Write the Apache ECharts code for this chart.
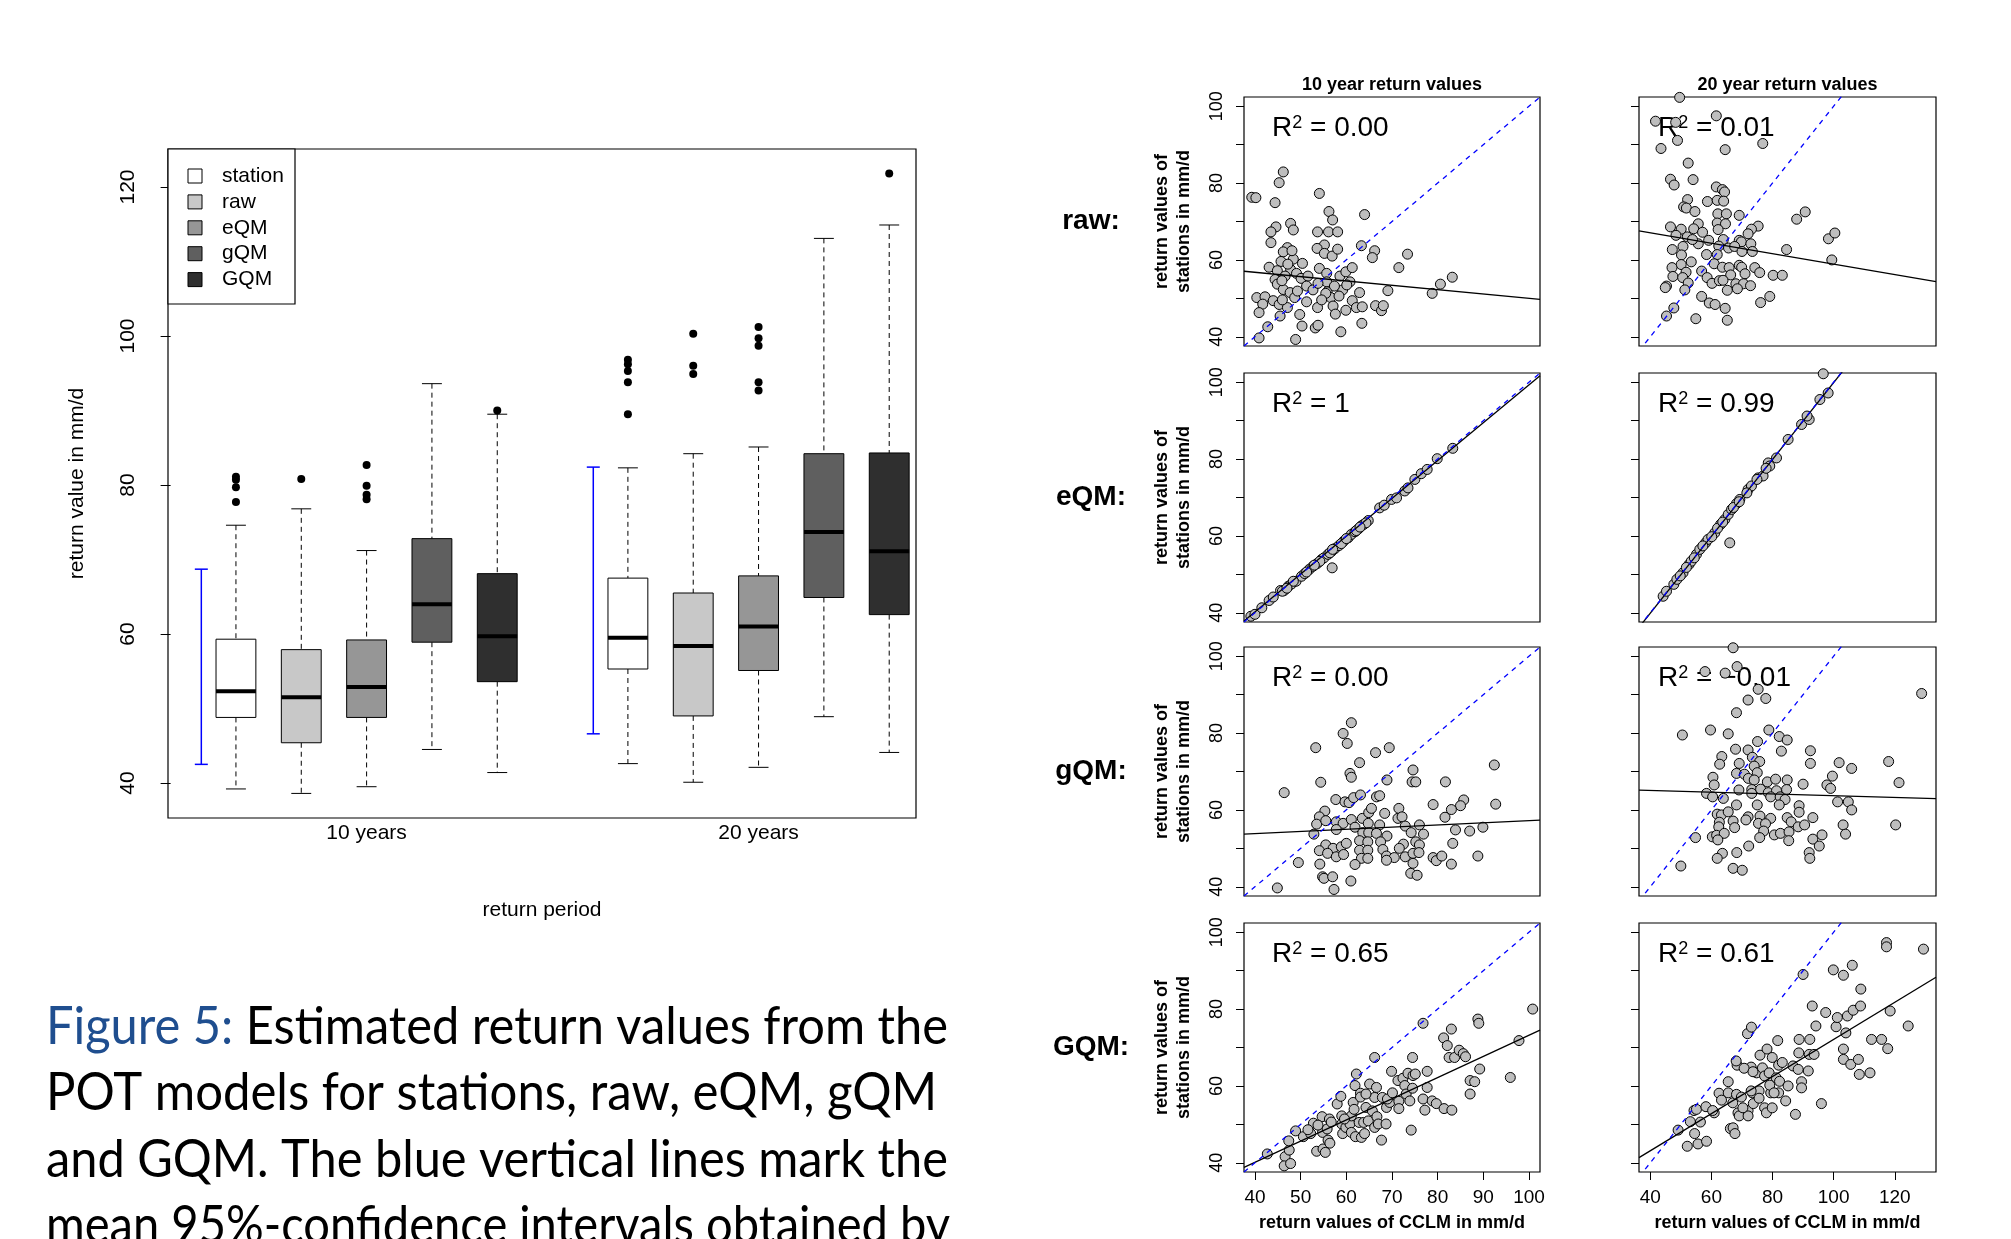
<!DOCTYPE html>
<html>
<head>
<meta charset="utf-8">
<title>Return values</title>
<script src="https://cdn.jsdelivr.net/npm/echarts@6.0.0/dist/echarts.min.js"></script>
<style>
  html, body { margin: 0; padding: 0; background: #fff; }
  #main { width: 2011px; height: 1239px; }
</style>
</head>
<body>
<div id="main"></div>
<script>
// ---- box plot data ----
const methods = ['station', 'raw', 'eQM', 'gQM', 'GQM']
const periods = ['10 years', '20 years']
const periodTicks = [3, 9]
const boxPos = [1, 2, 3, 4, 5, 7, 8, 9, 10, 11]
// lower whisker, q1, median, q3, upper whisker
const boxStats = [
  [39.2, 48.8, 52.3, 59.3, 74.6],
  [38.6, 45.4, 51.5, 57.9, 76.8],
  [39.5, 48.8, 52.9, 59.2, 71.2],
  [44.5, 58.9, 64.0, 72.8, 93.6],
  [41.4, 53.6, 59.7, 68.1, 89.5],
  [42.6, 55.3, 59.5, 67.5, 82.3],
  [40.1, 49.0, 58.4, 65.5, 84.2],
  [42.1, 55.1, 61.0, 67.8, 85.1],
  [48.9, 64.9, 73.7, 84.2, 113.1],
  [44.1, 62.6, 71.1, 84.3, 114.9]
]
const outliers = [
  [1, 81.1], [1, 80.7], [1, 79.7], [1, 77.7], [2, 80.8],
  [3, 82.7], [3, 79.9], [3, 78.7], [3, 78.1], [5, 90.0],
  [7, 96.8], [7, 96.2], [7, 95.3], [7, 93.8], [7, 89.5],
  [8, 100.3], [8, 96.0], [8, 94.9],
  [9, 101.2], [9, 99.7], [9, 98.7], [9, 93.8], [9, 92.7],
  [11, 121.8]
]
const ciPos = [0.47, 6.47]
const ciLow = [42.5, 46.6]
const ciHigh = [68.7, 82.4]

// ---- scatter data: [CCLM, station] ----
const raw10 = [[39.3,76.3],[40.2,76.2],[46.2,82.9],[45.3,80.1],[44.4,74.9],[54.1,77.3],[56.2,72.6],[57.0,70.4],[64.0,71.8],[44.6,68.6],[43.5,67.3],[47.8,69.5],[48.4,67.8],[53.7,67.3],[56.1,67.3],[58.1,67.3],[43.5,64.5],[47.1,63.2],[46.2,62.1],[55.2,63.9],[53.6,63.0],[55.2,61.7],[56.9,61.0],[58.1,62.8],[63.3,63.7],[66.2,62.4],[65.7,60.6],[73.4,61.5],[71.5,58.0],[83.2,55.5],[80.6,53.7],[78.8,51.3],[69.1,52.0],[62.9,51.5],[45.7,59.6],[48.4,60.2],[50.4,59.1],[43.1,58.1],[44.9,57.2],[47.8,57.5],[49.1,56.5],[46.6,55.8],[44.4,54.9],[44.9,53.7],[50.1,55.2],[51.6,55.8],[54.1,57.8],[55.7,56.5],[58.6,55.8],[59.9,56.9],[61.3,58.0],[60.8,54.3],[55.7,54.3],[51.3,53.2],[46.2,52.3],[47.7,51.5],[52.7,52.2],[53.8,53.9],[55.8,51.7],[59.2,52.2],[40.4,50.2],[42.2,50.4],[41.7,48.5],[44.0,49.4],[45.3,48.4],[47.1,47.6],[48.7,50.2],[51.3,49.1],[53.7,47.6],[56.6,50.2],[57.1,48.0],[57.6,45.9],[59.9,46.9],[61.3,49.4],[62.2,47.6],[63.5,47.8],[66.4,48.1],[67.7,46.8],[68.1,48.1],[40.9,46.3],[45.5,45.4],[49.8,45.8],[42.8,42.6],[50.3,42.8],[53.2,42.3],[53.8,43.0],[63.4,43.5],[58.8,41.3],[40.9,39.7],[48.9,39.3],[55.5,51.3],[47.2,58.9],[45.9,54.6],[48.1,62.4],[60.1,53.5],[58.4,50.6],[54.6,49.6],[49.3,51.9],[57.4,53.2],[46.0,49.6]]
const raw20 = [[41.7,96.1],[48.3,95.8],[61.6,97.5],[49.6,102.3],[48.9,91.1],[43.5,89.0],[64.5,88.7],[76.8,90.3],[52.4,85.2],[46.6,81.0],[47.8,79.5],[54.0,80.9],[61.6,79.0],[63.6,78.3],[64.3,77.7],[52.2,75.7],[58.7,75.2],[61.9,75.5],[64.0,75.3],[50.9,73.8],[51.8,73.5],[54.6,72.6],[62.1,72.0],[64.9,72.0],[61.9,69.6],[64.6,69.4],[69.1,71.6],[87.9,70.6],[90.7,72.5],[46.6,68.6],[50.1,68.0],[55.7,69.4],[54.2,68.1],[62.2,67.9],[75.3,68.8],[73.1,68.0],[72.0,66.8],[48.4,66.4],[52.1,66.0],[57.1,67.2],[59.1,65.1],[63.9,65.3],[55.7,64.2],[53.8,65.3],[69.1,65.1],[69.8,64.7],[72.9,64.2],[98.3,65.5],[100.4,67.0],[47.2,62.7],[50.7,63.5],[62.4,63.6],[65.6,63.1],[67.6,63.5],[70.0,62.2],[73.4,62.2],[84.6,62.7],[50.2,61.3],[58.4,61.4],[61.9,61.4],[53.4,59.5],[50.1,58.8],[47.1,58.0],[60.9,59.0],[63.6,58.1],[65.8,58.0],[69.1,58.6],[69.9,58.1],[74.2,58.0],[99.4,60.0],[51.7,56.8],[56.8,57.1],[66.3,56.1],[71.0,56.4],[75.8,56.7],[80.2,56.0],[83.2,56.0],[47.4,55.7],[50.6,55.4],[58.6,55.4],[52.4,54.0],[60.2,53.9],[62.6,54.6],[63.8,54.7],[68.0,53.8],[70.5,53.8],[72.8,53.3],[45.3,53.2],[44.9,52.8],[51.3,52.2],[65.2,52.1],[68.5,52.5],[56.8,50.5],[79.1,50.5],[59.3,48.8],[61.2,48.4],[76.1,48.9],[64.5,47.4],[47.7,47.5],[45.3,45.4],[54.9,44.7],[65.2,44.3]]
const eQM10 = [[39.1,39.1],[40.0,39.6],[41.5,41.3],[43.1,43.2],[44.0,44.1],[45.6,45.8],[46.4,45.8],[47.3,46.9],[48.0,47.5],[49.0,48.2],[50.2,49.5],[50.9,50.2],[51.9,51.3],[52.7,52.1],[53.6,52.8],[54.6,53.9],[55.1,54.3],[56.0,55.2],[56.8,56.0],[57.5,56.7],[58.4,57.5],[59.4,58.6],[60.4,59.5],[61.1,60.4],[61.9,61.1],[62.7,61.9],[63.3,62.6],[63.8,63.0],[64.8,64.0],[67.3,67.3],[68.3,68.0],[69.9,69.5],[71.0,69.9],[72.8,71.7],[73.5,72.5],[75.0,74.7],[76.4,76.2],[77.7,77.3],[79.9,80.1],[83.3,82.8],[56.9,51.7],[46.0,45.6],[48.4,48.2],[51.3,50.6],[54.2,53.4],[56.4,55.6],[58.9,58.0],[62.2,61.4],[64.3,63.4],[47.0,46.4],[53.0,52.4],[57.0,56.5],[60.0,59.3],[63.0,62.3]]
const eQM20 = [[44.2,44.3],[45.3,45.6],[47.7,47.4],[48.7,48.7],[50.7,50.4],[52.7,52.6],[53.4,53.4],[55.1,55.2],[56.2,56.5],[58.1,58.2],[58.9,59.1],[61.1,60.8],[63.0,63.0],[64.4,64.3],[65.5,65.6],[66.6,66.9],[68.2,68.4],[69.3,69.5],[72.0,72.1],[73.1,73.0],[75.3,75.1],[76.9,75.6],[78.6,79.0],[79.1,78.2],[81.3,80.3],[85.1,85.1],[89.5,89.0],[92.0,90.3],[91.3,91.2],[95.5,95.5],[98.2,97.2],[96.6,102.2],[66.0,58.2],[49.8,49.6],[51.8,51.8],[54.4,54.3],[57.2,57.4],[60.1,59.8],[62.0,62.0],[63.7,63.6],[67.2,67.4],[69.1,68.9],[71.6,71.2],[74.9,74.7],[77.9,77.6]]
const gQM10 = [[61.1,82.7],[59.3,79.9],[60.2,77.3],[53.3,76.2],[66.4,74.9],[69.4,76.2],[62.9,72.3],[74.6,70.4],[92.4,71.7],[60.8,69.5],[61.1,68.5],[54.4,67.2],[68.9,67.8],[74.4,67.3],[75.2,67.3],[81.7,67.3],[46.4,64.5],[57.7,62.7],[59.7,62.1],[60.6,61.9],[61.6,63.2],[63.1,63.9],[66.6,63.4],[67.3,63.7],[79.0,61.4],[85.7,62.6],[85.0,61.1],[83.0,60.1],[92.7,61.5],[55.3,59.7],[54.1,58.2],[53.5,56.3],[55.5,57.2],[57.8,56.9],[59.3,56.5],[61.1,57.5],[63.5,57.8],[64.9,59.3],[65.5,60.4],[68.4,59.1],[71.5,60.4],[71.3,57.8],[72.2,58.2],[67.3,56.1],[64.8,56.5],[61.9,55.5],[57.8,54.9],[72.9,55.8],[76.0,56.1],[81.6,58.1],[89.9,55.5],[52.9,53.7],[63.6,54.1],[64.9,54.1],[66.6,53.9],[68.9,53.2],[74.2,54.1],[76.9,53.7],[83.9,54.8],[87.0,54.5],[62.9,52.0],[64.7,51.7],[67.5,51.7],[75.2,51.7],[76.0,50.9],[83.3,51.3],[55.5,50.9],[57.1,50.0],[58.9,50.4],[60.0,51.3],[72.5,51.1],[71.6,50.0],[54.1,49.4],[55.9,48.7],[57.8,47.8],[59.4,48.4],[62.9,49.5],[64.7,49.5],[68.0,49.7],[68.8,48.0],[70.5,47.6],[72.9,47.8],[74.6,48.7],[75.9,48.9],[63.3,47.4],[64.7,47.4],[68.8,46.9],[79.0,47.6],[79.7,46.8],[80.9,48.0],[88.8,48.0],[49.5,46.3],[54.2,45.9],[61.9,45.8],[74.6,46.1],[83.0,45.9],[54.8,42.6],[55.1,42.2],[57.0,42.6],[61.0,41.5],[74.1,43.5],[75.5,43.0],[44.9,39.7],[57.3,39.3]]
const gQM20 = [[67.1,102.2],[57.9,96.0],[64.5,95.6],[68.4,97.3],[75.3,91.4],[72.0,88.6],[77.8,89.0],[68.2,85.3],[128.8,90.3],[50.5,79.5],[59.7,80.8],[65.5,79.8],[78.8,80.8],[82.2,79.1],[84.8,78.2],[75.1,77.8],[82.9,75.3],[67.9,75.8],[72.0,75.6],[92.4,75.4],[92.4,72.1],[63.4,73.9],[62.7,71.9],[69.1,72.1],[73.4,73.7],[75.8,72.6],[74.0,71.4],[101.8,72.3],[105.9,70.8],[118.0,72.6],[121.4,67.1],[68.2,69.5],[70.8,69.3],[75.0,69.7],[60.5,68.5],[72.1,68.2],[74.0,67.8],[60.9,66.5],[78.3,67.3],[81.0,68.0],[84.8,67.8],[90.0,66.7],[99.6,68.8],[97.8,66.5],[99.0,65.6],[58.4,64.3],[60.4,63.4],[63.9,63.0],[69.0,65.2],[73.2,65.3],[73.2,64.3],[76.1,65.4],[78.6,64.5],[81.3,65.0],[84.6,65.3],[79.4,63.4],[82.5,63.4],[84.1,62.7],[82.2,61.3],[88.7,61.1],[88.7,59.4],[101.3,62.1],[104.8,62.1],[105.9,60.0],[68.2,61.3],[75.0,61.3],[61.9,58.9],[63.3,58.7],[65.5,59.5],[72.0,58.2],[75.9,58.4],[79.4,57.8],[84.8,58.0],[86.1,56.9],[93.2,58.0],[62.6,56.8],[67.1,57.1],[71.3,57.4],[75.4,56.5],[77.7,56.4],[88.4,55.6],[90.5,56.1],[103.1,56.1],[120.3,56.1],[62.4,55.6],[67.6,55.4],[77.1,54.5],[60.3,53.0],[61.7,53.4],[64.2,53.9],[80.6,53.5],[82.6,53.9],[85.4,54.3],[54.8,52.8],[62.1,52.2],[75.8,52.8],[85.3,52.0],[93.2,52.4],[96.2,53.5],[103.9,53.7],[72.2,50.6],[95.3,50.6],[63.6,48.7],[68.3,48.9],[92.0,48.9],[92.2,47.4],[61.9,47.4],[50.0,45.4],[67.1,44.8],[70.1,44.3]]
const GQM10 = [[42.7,42.3],[46.6,41.6],[46.4,39.2],[47.8,39.8],[47.5,43.3],[47.4,45.7],[48.9,48.3],[50.6,46.8],[52.2,47.6],[52.8,50.3],[54.7,52.0],[53.5,43.0],[54.9,43.6],[55.4,42.7],[54.8,47.9],[56.0,45.9],[56.4,45.1],[55.8,48.8],[56.3,51.4],[58.0,55.3],[58.8,57.3],[59.0,52.2],[59.0,50.1],[59.2,47.6],[59.9,49.2],[60.8,50.1],[61.1,52.2],[61.1,47.9],[61.5,55.7],[61.9,60.1],[62.2,63.1],[62.0,46.8],[62.8,50.5],[63.1,58.1],[63.3,46.6],[64.0,47.6],[63.8,50.5],[64.8,50.9],[64.3,54.4],[65.1,60.5],[65.7,53.5],[66.2,67.4],[66.2,57.0],[66.6,59.6],[66.7,52.0],[66.2,49.2],[67.0,50.1],[67.9,57.0],[68.8,54.4],[68.7,50.1],[67.7,45.9],[69.9,63.8],[69.5,55.7],[71.3,61.4],[71.5,56.0],[71.5,54.1],[72.4,62.0],[72.8,60.1],[73.1,57.9],[73.5,63.3],[73.9,56.1],[74.5,67.4],[74.5,59.4],[74.6,62.7],[75.1,63.1],[74.2,48.5],[76.8,56.6],[77.2,53.7],[76.8,76.3],[77.7,63.8],[77.7,59.6],[78.8,56.1],[79.7,55.4],[81.4,54.1],[83.1,53.7],[81.3,72.5],[82.1,70.5],[82.5,67.4],[83.0,74.8],[83.7,67.4],[84.7,69.3],[85.6,68.4],[86.1,67.6],[87.1,57.9],[87.1,61.4],[88.1,61.1],[88.8,77.4],[89.0,76.3],[89.2,64.4],[95.9,62.2],[97.8,71.8],[100.8,80.0],[51.6,48.6],[53.8,49.8],[56.7,50.6],[59.6,51.4],[61.7,53.9],[63.1,57.1],[64.3,57.9],[69.0,56.6],[70.1,58.2]]
const GQM20 = [[49.1,48.5],[52.1,44.3],[55.6,44.9],[58.4,45.6],[54.5,47.6],[53.1,50.7],[56.4,50.6],[54.3,53.6],[55.1,53.9],[58.2,54.6],[60.9,53.0],[60.4,53.6],[62.5,58.1],[63.3,56.3],[65.5,61.1],[65.5,58.2],[67.0,55.6],[68.2,57.8],[69.8,57.1],[66.2,48.9],[67.1,49.1],[67.7,47.6],[68.7,53.0],[69.1,52.2],[72.0,53.6],[72.0,52.2],[68.4,65.4],[68.1,66.5],[71.8,73.6],[73.1,75.3],[73.0,64.9],[73.7,55.4],[74.8,63.4],[75.9,68.0],[73.4,58.2],[75.6,58.7],[76.7,64.7],[77.4,62.6],[77.4,54.3],[78.0,53.0],[78.2,69.6],[78.9,63.4],[79.4,58.2],[79.9,67.4],[79.9,54.3],[81.7,71.8],[82.0,65.4],[81.2,62.1],[82.3,61.2],[82.0,58.2],[83.2,66.1],[84.3,56.1],[85.1,60.0],[86.7,65.2],[87.5,52.6],[88.6,68.6],[88.4,64.3],[88.7,72.1],[89.5,61.1],[89.5,59.5],[90.0,89.0],[91.7,63.9],[92.0,68.2],[92.2,72.1],[93.0,80.8],[93.6,68.2],[94.2,75.6],[96.0,55.4],[97.4,79.1],[99.9,90.2],[100.8,75.4],[101.2,77.8],[103.2,88.8],[103.2,69.6],[103.2,66.9],[104.0,73.8],[104.5,78.2],[105.6,65.6],[106.1,91.4],[106.4,79.7],[108.1,66.9],[108.4,63.0],[108.9,85.2],[108.8,80.8],[111.9,63.4],[112.4,72.1],[115.7,72.1],[117.3,97.3],[117.3,96.2],[117.7,69.7],[118.5,79.5],[124.4,75.6],[129.4,95.6],[70.7,64.6],[73.6,63.7],[75.6,56.8],[79.1,60.2],[80.5,58.2],[73.0,58.7],[70.3,54.3]]

const rowNames = ['raw:', 'eQM:', 'gQM:', 'GQM:']
const colTitles = ['10 year return values', '20 year return values']
// panel order: raw10, raw20, eQM10, eQM20, ...
const fitIntercepts = [61.3, 72.5, 0.8, -0.1, 51.6, 66.0, 18.1, 23.8]
const fitSlopes = [-0.113, -0.136, 0.985, 1.0, 0.056, -0.023, 0.551, 0.483]
const r2Labels = ['0.00', '0.01', '1', '0.99', '0.00', '\u22120.01', '0.65', '0.61']
const xRanges = [[37.6, 102.4], [36.3, 133.5]]
const yRange = [37.6, 102.4]
const xTicks = [[40, 50, 60, 70, 80, 90, 100], [40, 60, 80, 100, 120]]
const yTicks = [40, 50, 60, 70, 80, 90, 100]
const yTickLabels = [40, 60, 80, 100]
const boxYTicks = [40, 60, 80, 100, 120]

const captionLines = [
  'Figure 5: Estimated return values from the',
  'POT models for stations, raw, eQM, gQM',
  'and GQM. The blue vertical lines mark the',
  'mean 95%-confidence intervals obtained by'
]

// ---- layout ----
const boxColors = ['#ffffff', '#c8c8c8', '#969696', '#5f5f5f', '#2f2f2f']
const FONT = 'Liberation Sans'
const boxWidth = 0.61
const gridLeft = [1244, 1639]
const gridWidth = [296, 297]
const gridTop = [97, 373, 647, 923]
const gridHeight = 249
const r2Offset = [28, 19]

const panels = [raw10, raw20, eQM10, eQM20, gQM10, gQM20, GQM10, GQM20]

const chart = echarts.init(document.getElementById('main'))

const frame = { show: true, borderColor: '#000', borderWidth: 1.2, backgroundColor: 'transparent', outerBoundsMode: 'none' }

const grids = [Object.assign({ left: 168, top: 149, width: 748, height: 669 }, frame)]
const xAxes = [{
  gridIndex: 0, type: 'value', min: -0.04, max: 11.41,
  splitLine: { show: false }, axisLine: { show: false }, axisTick: { show: false },
  axisLabel: {
    customValues: periodTicks, margin: 5, fontSize: 21, color: '#000', fontFamily: FONT,
    formatter: v => periods[periodTicks.indexOf(v)]
  },
  name: 'return period', nameLocation: 'middle', nameGap: 82,
  nameTextStyle: { fontSize: 21, color: '#000', fontFamily: FONT }
}]
const yAxes = [{
  gridIndex: 0, type: 'value', min: 35.3, max: 125.1,
  splitLine: { show: false }, axisLine: { show: false },
  axisTick: { show: true, customValues: boxYTicks, length: 10, lineStyle: { color: '#000' } },
  axisLabel: {
    customValues: boxYTicks, rotate: 90, align: 'center', verticalAlign: 'bottom',
    margin: 29, fontSize: 21, color: '#000', fontFamily: FONT
  },
  name: 'return value in mm/d', nameLocation: 'middle', nameGap: 80, nameRotate: 90,
  nameTextStyle: { fontSize: 21, color: '#000', fontFamily: FONT }
}]

const series = [
  {
    type: 'custom', xAxisIndex: 0, yAxisIndex: 0, silent: true, z: 3,
    data: boxPos.map((p, i) => [p].concat(boxStats[i])),
    encode: { x: 0, y: [1, 2, 3, 4, 5] },
    renderItem: (params, api) => {
      const x = api.value(0)
      const pt = [1, 2, 3, 4, 5].map(k => api.coord([x, api.value(k)]))
      const w = api.size([boxWidth, 0])[0]
      const cx = pt[0][0], h = w / 2, cap = w / 4
      const dashed = { stroke: '#000', lineWidth: 1, lineDash: [5, 4] }
      const solid = { stroke: '#000', lineWidth: 1 }
      return {
        type: 'group', children: [
          { type: 'line', shape: { x1: cx, y1: pt[4][1], x2: cx, y2: pt[3][1] }, style: dashed },
          { type: 'line', shape: { x1: cx, y1: pt[1][1], x2: cx, y2: pt[0][1] }, style: dashed },
          { type: 'line', shape: { x1: cx - cap, y1: pt[4][1], x2: cx + cap, y2: pt[4][1] }, style: solid },
          { type: 'line', shape: { x1: cx - cap, y1: pt[0][1], x2: cx + cap, y2: pt[0][1] }, style: solid },
          { type: 'rect', shape: { x: cx - h, y: pt[3][1], width: w, height: pt[1][1] - pt[3][1] },
            style: { fill: boxColors[params.dataIndex % 5], stroke: '#000', lineWidth: 1 } },
          { type: 'line', shape: { x1: cx - h, y1: pt[2][1], x2: cx + h, y2: pt[2][1] },
            style: { stroke: '#000', lineWidth: 4 } }
        ]
      }
    }
  },
  {
    type: 'custom', xAxisIndex: 0, yAxisIndex: 0, silent: true, z: 3,
    data: ciPos.map((p, i) => [p, ciLow[i], ciHigh[i]]),
    encode: { x: 0, y: [1, 2] },
    renderItem: (params, api) => {
      const lo = api.coord([api.value(0), api.value(1)])
      const hi = api.coord([api.value(0), api.value(2)])
      const st = { stroke: '#0000ff', lineWidth: 1.5 }
      return {
        type: 'group', children: [
          { type: 'line', shape: { x1: lo[0], y1: lo[1], x2: hi[0], y2: hi[1] }, style: st },
          { type: 'line', shape: { x1: lo[0] - 6.5, y1: lo[1], x2: lo[0] + 6.5, y2: lo[1] }, style: st },
          { type: 'line', shape: { x1: hi[0] - 6.5, y1: hi[1], x2: hi[0] + 6.5, y2: hi[1] }, style: st }
        ]
      }
    }
  },
  {
    type: 'scatter', xAxisIndex: 0, yAxisIndex: 0, silent: true, z: 4,
    data: outliers, symbolSize: 8, itemStyle: { color: '#000', opacity: 1 }
  }
]

const graphics = []

panels.forEach((pts, i) => {
  const row = Math.floor(i / 2), col = i % 2
  const g = grids.length
  const bottom = row === 3
  grids.push(Object.assign({ left: gridLeft[col], top: gridTop[row], width: gridWidth[col], height: gridHeight }, frame))
  const xr = xRanges[col]
  xAxes.push({
    gridIndex: g, type: 'value', min: xr[0], max: xr[1],
    splitLine: { show: false }, axisLine: { show: false },
    axisTick: { show: bottom, customValues: xTicks[col], length: 8, lineStyle: { color: '#000' } },
    axisLabel: { show: bottom, customValues: xTicks[col], margin: 16, fontSize: 19, color: '#000', fontFamily: FONT },
    name: bottom ? 'return values of CCLM in mm/d' : '', nameLocation: 'middle', nameGap: 42,
    nameTextStyle: { fontSize: 18, fontWeight: 'bold', color: '#000', fontFamily: FONT }
  })
  yAxes.push({
    gridIndex: g, type: 'value', min: yRange[0], max: yRange[1],
    splitLine: { show: false }, axisLine: { show: false },
    axisTick: { show: true, customValues: yTicks, length: 8, lineStyle: { color: '#000' } },
    axisLabel: {
      show: col === 0, customValues: yTickLabels, rotate: 90, align: 'center', verticalAlign: 'bottom',
      margin: 18, fontSize: 18, color: '#000', fontFamily: FONT
    },
    name: col === 0 ? 'return values of\nstations in mm/d' : '', nameLocation: 'middle', nameGap: 49, nameRotate: 90,
    nameTextStyle: { fontSize: 18, fontWeight: 'bold', lineHeight: 22, color: '#000', fontFamily: FONT }
  })
  series.push({
    type: 'scatter', xAxisIndex: g, yAxisIndex: g, silent: true, z: 2, clip: true,
    data: pts, symbolSize: 10,
    itemStyle: { color: '#bebebe', borderColor: '#000', borderWidth: 1, opacity: 1 }
  })
  const a = fitIntercepts[i], b = fitSlopes[i]
  series.push({
    type: 'line', xAxisIndex: g, yAxisIndex: g, silent: true, z: 3, clip: true,
    data: [[xr[0], a + b * xr[0]], [xr[1], a + b * xr[1]]], symbol: 'none',
    lineStyle: { color: '#000', width: 1.3 }
  })
  series.push({
    type: 'line', xAxisIndex: g, yAxisIndex: g, silent: true, z: 4, clip: true,
    data: [[xr[0], xr[0]], [xr[1], xr[1]]], symbol: 'none',
    lineStyle: { color: '#0000ff', width: 1.3, type: [5, 5] }
  })
  graphics.push({
    type: 'text', x: gridLeft[col] + r2Offset[col], y: gridTop[row] + 31, z: 1, silent: true,
    style: {
      text: '{r|R}{s|2}{r| = ' + r2Labels[i] + '}',
      verticalAlign: 'middle',
      rich: {
        r: { fontSize: 28, fontFamily: FONT, fill: '#000' },
        s: { fontSize: 18, fontFamily: FONT, fill: '#000', verticalAlign: 'top' }
      }
    }
  })
})

rowNames.forEach((name, r) => {
  graphics.push({
    type: 'text', x: 1091, y: gridTop[r] + gridHeight / 2, silent: true,
    style: { text: name, fontSize: 28, fontWeight: 'bold', fontFamily: FONT, fill: '#000', align: 'center', verticalAlign: 'middle' }
  })
})
colTitles.forEach((t, c) => {
  graphics.push({
    type: 'text', x: gridLeft[c] + gridWidth[c] / 2, y: 85, silent: true,
    style: { text: t, fontSize: 18, fontWeight: 'bold', fontFamily: FONT, fill: '#000', align: 'center', verticalAlign: 'middle' }
  })
})

// legend box of the box plot
graphics.push({
  type: 'rect', shape: { x: 168, y: 149, width: 127, height: 155 }, silent: true, z: 5,
  style: { fill: '#fff', stroke: '#000', lineWidth: 1.2 }
})
methods.forEach((m, k) => {
  const y = 176 + k * 25.9
  graphics.push({
    type: 'rect', shape: { x: 188, y: y - 7, width: 14, height: 14 }, silent: true, z: 6,
    style: { fill: boxColors[k], stroke: '#000', lineWidth: 1 }
  })
  graphics.push({
    type: 'text', x: 222, y: y, silent: true, z: 6,
    style: { text: m, fontSize: 21, fontFamily: FONT, fill: '#000', verticalAlign: 'middle' }
  })
})

// caption, each line stretched to the text block width
const CAP_FONT = 'Lato'
const capSize = 52
const capWeight = 400
const capWidths = [902, 891, 902, 904]
const capY = [1027, 1093, 1160, 1226]
const ctx = document.createElement('canvas').getContext('2d')
ctx.font = capWeight + ' ' + capSize + 'px ' + CAP_FONT
captionLines.forEach((line, i) => {
  const k = capWidths[i] / ctx.measureText(line).width
  const text = i === 0 ? line.replace('Figure 5:', '{b|Figure 5:}') : line
  graphics.push({
    type: 'text', x: 46, y: capY[i], scaleX: k, silent: true,
    style: {
      text: text, fontSize: capSize, fontWeight: capWeight, fontFamily: CAP_FONT, fill: '#000', verticalAlign: 'middle',
      rich: { b: { fontSize: capSize, fontWeight: capWeight, fontFamily: CAP_FONT, fill: '#1f4e8f' } }
    }
  })
})

chart.setOption({
  backgroundColor: '#fff',
  animation: false,
  textStyle: { fontFamily: FONT },
  grid: grids,
  xAxis: xAxes,
  yAxis: yAxes,
  series: series,
  graphic: graphics
})
</script>
</body>
</html>
